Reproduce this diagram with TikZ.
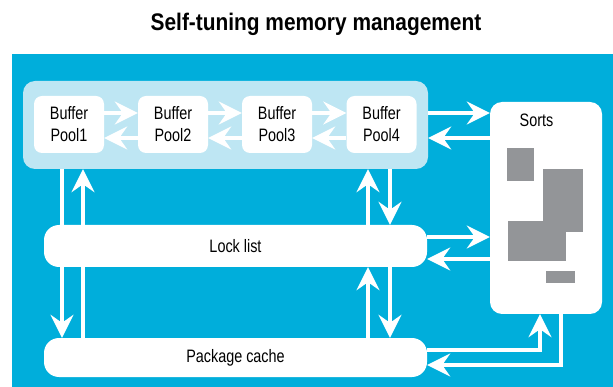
\documentclass[tikz,border=0pt]{standalone}
\usepackage{fontspec}
\setmainfont{Liberation Sans}[FakeStretch=0.8]
\newfontfamily\titlefont{Liberation Sans}[FakeStretch=0.87]
\usetikzlibrary{arrows.meta}
\definecolor{skyblue}{RGB}{0,174,219}
\definecolor{paleblue}{RGB}{190,230,243}
\definecolor{blockgray}{RGB}{147,149,152}
\tikzset{
  poolbox/.style={fill=white, rounded corners=8pt, minimum width=70pt, minimum height=57pt,
    inner sep=0pt, align=center, font=\fontsize{18}{22}\selectfont},
  barbox/.style={fill=white, rounded corners=15pt, minimum width=383pt, inner sep=0pt,
    font=\fontsize{18}{22}\selectfont},
  flow/.style={draw=white, line width=3.6pt, miter limit=10,
    -{Stealth[length=23pt, width=23pt, inset=8pt]}},
}
\begin{document}
\begin{tikzpicture}[x=1pt, y=-1pt]
\useasboundingbox (0,0) rectangle (613,387);
% title and backdrop
\node[font=\titlefont\bfseries\fontsize{24}{28}\selectfont, anchor=base] (title) at (316,31) {Self-tuning memory management};
\fill[skyblue] (12,54) rectangle (613,387);

% buffer pool group
\node[fill=paleblue, rounded corners=12pt, minimum width=405pt, minimum height=88pt, inner sep=0pt] (panel) at (225.5,125) {};
\node[poolbox] (pool1) at (69,124.5) {Buffer\\Pool1};
\node[poolbox] (pool2) at (173,124.5) {Buffer\\Pool2};
\node[poolbox] (pool3) at (277,124.5) {Buffer\\Pool3};
\node[poolbox] (pool4) at (381.5,124.5) {Buffer\\Pool4};

% sorts heap
\node[fill=white, rounded corners=12pt, minimum width=112pt, minimum height=212pt, inner sep=0pt] (sorts) at (546,208) {};
\node[font=\fontsize{18}{22}\selectfont, anchor=base] (sortslabel) at (536.5,127) {Sorts};
\fill[blockgray] (507,148) rectangle (534,181);
\fill[blockgray] (543,169) rectangle (583,232);
\fill[blockgray] (508,221) rectangle (566,261);
\fill[blockgray] (546,271) rectangle (575,283);

% lock list and package cache
\node[barbox, minimum height=42pt] (lock) at (235.5,246) {Lock list};
\node[barbox, minimum height=39pt] (pkg) at (235.5,357.5) {Package cache};

% traffic between the buffer pools
\foreach \a/\b in {pool1/pool2, pool2/pool3, pool3/pool4}{
  \draw[flow] ([yshift=11.5pt]\a.east) -- ([yshift=11.5pt]\b.west);
  \draw[flow] ([yshift=-13.5pt]\b.west) -- ([yshift=-13.5pt]\a.east);
}
% buffer pools <-> sorts
\draw[flow] ([yshift=12pt]panel.east) -- ([yshift=12pt]panel.east -| sorts.west);
\draw[flow] ([yshift=-13pt]panel.east -| sorts.west) -- ([yshift=-13pt]panel.east);
% lock list <-> sorts
\draw[flow] ([yshift=9pt]lock.east) -- ([yshift=9pt]lock.east -| sorts.west);
\draw[flow] ([yshift=-13pt]lock.east -| sorts.west) -- ([yshift=-13pt]lock.east);
% package cache <-> sorts
\draw[flow] ([yshift=7.5pt]pkg.east) -| ([xshift=-6pt]sorts.south);
\draw[flow] ([xshift=15pt]sorts.south) |- ([yshift=-7.5pt]pkg.east);

% left-hand verticals: buffer pools <-> package cache
\draw[flow] ([xshift=-173.5pt]lock.center |- panel.south) -- ([xshift=-173.5pt]lock.center |- pkg.north);
\draw[flow] ([xshift=-152.5pt]lock.center |- pkg.north) -- ([xshift=-152.5pt]lock.center |- panel.south);
% right-hand verticals
\draw[flow] ([xshift=132.5pt]lock.north) -- ([xshift=132.5pt]lock.center |- panel.south);
\draw[flow] ([xshift=154.5pt]lock.center |- panel.south) -- ([xshift=154.5pt]lock.north);
\draw[flow] ([xshift=132.5pt]pkg.north) -- ([xshift=132.5pt]lock.south);
\draw[flow] ([xshift=154.5pt]lock.south) -- ([xshift=154.5pt]pkg.north);
\end{tikzpicture}
\end{document}
